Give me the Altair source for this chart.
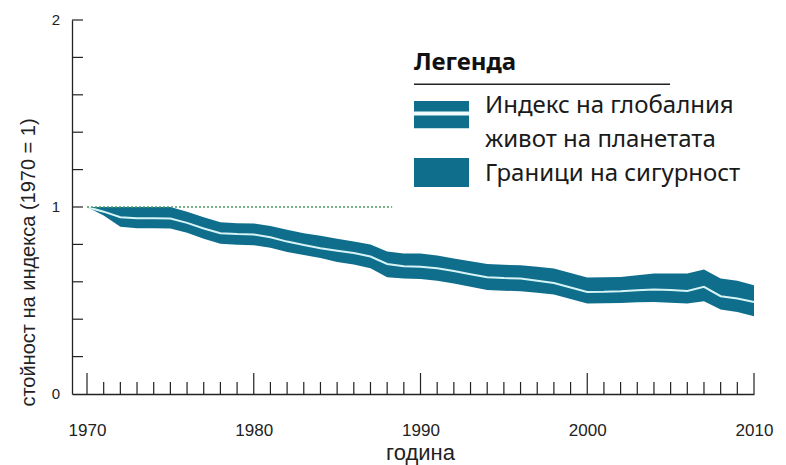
import altair as alt
import pandas as pd

# ---------------- data ----------------
years = list(range(1970, 2011))
lpi = [1.000, 0.975, 0.945, 0.940, 0.940, 0.938, 0.915, 0.885, 0.860, 0.855,
       0.853, 0.838, 0.815, 0.797, 0.780, 0.766, 0.754, 0.735, 0.695, 0.683,
       0.681, 0.672, 0.658, 0.640, 0.624, 0.620, 0.618, 0.606, 0.594, 0.570,
       0.546, 0.547, 0.550, 0.555, 0.559, 0.556, 0.551, 0.573, 0.523, 0.511,
       0.492]
upper = [1.000, 1.000, 1.000, 1.000, 1.000, 1.000, 0.975, 0.945, 0.918, 0.913,
         0.912, 0.898, 0.878, 0.860, 0.846, 0.830, 0.816, 0.800, 0.762, 0.751,
         0.751, 0.740, 0.725, 0.710, 0.695, 0.691, 0.689, 0.680, 0.671, 0.647,
         0.623, 0.624, 0.626, 0.635, 0.644, 0.644, 0.644, 0.666, 0.618, 0.605,
         0.582]
lower = [1.000, 0.955, 0.895, 0.887, 0.887, 0.885, 0.862, 0.830, 0.804, 0.798,
         0.796, 0.782, 0.760, 0.743, 0.727, 0.706, 0.692, 0.672, 0.625, 0.617,
         0.615, 0.605, 0.591, 0.573, 0.556, 0.552, 0.550, 0.541, 0.532, 0.508,
         0.484, 0.485, 0.487, 0.490, 0.492, 0.488, 0.484, 0.496, 0.452, 0.439,
         0.416]
ref_years = [1970, 1988.3]
ref_value = [1, 1]
x_major = [1970, 1980, 1990, 2000, 2010]
x_minor = [y for y in years if y % 10 != 0]
y_ticks = [0.2, 0.4, 0.6, 0.8, 1.0, 1.2, 1.4, 1.6, 1.8, 2.0]
y_labels = [0, 1, 2]

x_title = "година"
y_title = "стойност на индекса (1970 = 1)"
legend_title = "Легенда"
legend_line1 = "Индекс на глобалния"
legend_line2 = "живот на планетата"
legend_line3 = "Граници на сигурност"

# ---------------- styles ----------------
BAND = "#0f6e8c"
LINE = "#d6f3f6"
DOT = "#4f9c64"
INK = "#222222"
AXIS_FONT = "Liberation Sans"
LEG_FONT = "Noto Sans"

df = pd.DataFrame({"year": years, "lpi": lpi, "upper": upper, "lower": lower})
ref_df = pd.DataFrame({"year": ref_years, "lpi": ref_value})
major_df = pd.DataFrame({"year": x_major})
minor_df = pd.DataFrame({"year": x_minor})
yt_df = pd.DataFrame({"lpi": y_ticks})
yl_df = pd.DataFrame({"lpi": y_labels, "lab": [str(v) for v in y_labels]})
one = pd.DataFrame({"k": [0]})

xscale = alt.Scale(domain=[1969.1, 2010], nice=False, zero=False)
yscale = alt.Scale(domain=[0, 2], nice=False, zero=True)

x_axis = alt.Axis(
    values=x_major, format="d", tickSize=0, labelPadding=28,
    labelFlush=False, labelOverlap=False,
    title=x_title, titleX=348, titleY=65,
    titleBaseline="alphabetic", titleAlign="center",
)
y_axis = alt.Axis(
    values=y_labels, labels=False, tickSize=0,
    title=y_title, titleAngle=270,
    titleX=-38, titleY=242, titleBaseline="alphabetic", titleAlign="center",
)
X = alt.X("year:Q", scale=xscale, axis=x_axis)
Y = alt.Y("lpi:Q", scale=yscale, axis=y_axis)

band = alt.Chart(df).mark_area(color=BAND, opacity=1).encode(
    x=X,
    y=alt.Y("upper:Q", scale=yscale, axis=y_axis),
    y2="lower:Q",
)
line = alt.Chart(df).mark_line(color=LINE, strokeWidth=2).encode(x=X, y=Y)
ref = alt.Chart(ref_df).mark_line(color=DOT, strokeWidth=1.7, strokeDash=[2, 2]).encode(x=X, y=Y)
major_t = alt.Chart(major_df).mark_rule(color=INK, strokeWidth=1.2, y2Offset=-21).encode(
    x=X, y=alt.datum(0), y2=alt.datum(0)
)
minor_t = alt.Chart(minor_df).mark_rule(color=INK, strokeWidth=1.2, y2Offset=-12).encode(
    x=X, y=alt.datum(0), y2=alt.datum(0)
)
y_t = alt.Chart(yt_df).mark_rule(color=INK, strokeWidth=1.2).encode(
    y=Y, x=alt.value(0), x2=alt.value(11)
)
y_lab = alt.Chart(yl_df).mark_text(
    font=AXIS_FONT, fontSize=15, color=INK, align="right", baseline="middle", dx=-12
).encode(y=Y, x=alt.value(0), text="lab:N")

# ---------------- legend (drawn by hand) ----------------
leg_title = alt.Chart(one).mark_text(
    font=LEG_FONT, fontSize=24, fontWeight="bold", color="#111", align="left",
    baseline="alphabetic",
).encode(x=alt.value(342), y=alt.value(50), text=alt.value(legend_title))
leg_rule = alt.Chart(one).mark_rule(color=INK, strokeWidth=1.5).encode(
    x=alt.value(342), x2=alt.value(598), y=alt.value(64.3)
)
sym1 = alt.Chart(one).mark_rect(color=BAND).encode(
    x=alt.value(342), x2=alt.value(397), y=alt.value(81), y2=alt.value(108.3)
)
sym1_gap = alt.Chart(one).mark_rule(color="#f2fbfc", strokeWidth=4).encode(
    x=alt.value(342), x2=alt.value(397), y=alt.value(93.5)
)
sym2 = alt.Chart(one).mark_rect(color=BAND).encode(
    x=alt.value(342), x2=alt.value(397), y=alt.value(138), y2=alt.value(167)
)

def leg_text(t, yb):
    return alt.Chart(one).mark_text(
        font=LEG_FONT, fontSize=24, color="#1a1a1a", align="left", baseline="alphabetic"
    ).encode(x=alt.value(413), y=alt.value(yb), text=alt.value(t))

chart = alt.layer(
    band, line, ref, major_t, minor_t, y_t, y_lab,
    leg_title, leg_rule, sym1, sym1_gap, sym2,
    leg_text(legend_line1, 92.5), leg_text(legend_line2, 126.5), leg_text(legend_line3, 160.5),
).properties(
    width=682, height=374,
    padding={"left": 72, "top": 20, "right": 32, "bottom": 71},
    autosize=alt.AutoSizeParams(type="none"),
    background="white",
).configure_view(stroke=None).configure_axis(
    grid=False, domainColor=INK, domainWidth=1.3,
    labelFont=AXIS_FONT, labelColor=INK,
    titleFont=AXIS_FONT, titleFontWeight="normal", titleColor=INK,
).configure_axisX(labelFontSize=17, titleFontSize=22).configure_axisY(
    titleFontSize=20
)

chart.save("out.html", embed_options={"renderer": "svg", "actions": False})
